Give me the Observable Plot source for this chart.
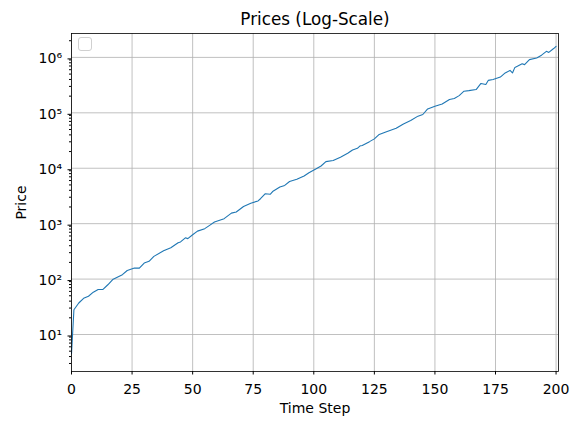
<!DOCTYPE html>
<html>
<head>
<meta charset="utf-8">
<script src="https://cdn.jsdelivr.net/npm/d3@7"></script>
<script src="https://cdn.jsdelivr.net/npm/@observablehq/plot@0.6"></script>
<style>
  html, body { margin: 0; padding: 0; background: #fff; }
  #wrap { position: relative; width: 579px; height: 422px; }
  #legend { position: absolute; left: 78px; top: 37px; width: 12px; height: 12px;
            border: 1px solid #d0d0d0; border-radius: 3px; background: rgba(255,255,255,0.8); }
  svg { font-family: "DejaVu Sans", sans-serif; }
</style>
</head>
<body>
<div id="wrap"><div id="legend"></div></div>
<script>
const title = "Prices (Log-Scale)";
const xLabel = "Time Step";
const yLabel = "Price";
const xTicks = [0, 25, 50, 75, 100, 125, 150, 175, 200];
const yTicks = [10, 100, 1000, 10000, 100000, 1000000];
const yMinorTicks = [3, 4, 5, 6, 7, 8, 9,
  20, 30, 40, 50, 60, 70, 80, 90,
  200, 300, 400, 500, 600, 700, 800, 900,
  2000, 3000, 4000, 5000, 6000, 7000, 8000, 9000,
  20000, 30000, 40000, 50000, 60000, 70000, 80000, 90000,
  200000, 300000, 400000, 500000, 600000, 700000, 800000, 900000,
  2000000];

const steps = [0, 1, 3, 5, 7, 9, 11, 13, 15, 17, 21, 23, 26, 28, 30, 32, 34, 38, 39, 41,
  44, 45, 47, 48, 50, 52, 55, 57, 59, 63, 66, 68, 71, 74, 77, 78, 80, 82, 83, 86,
  88, 90, 93, 96, 98, 101, 103, 105, 108, 111, 114, 116, 118, 119, 120, 123, 125, 127, 130, 134,
  137, 140, 143, 145, 147, 150, 153, 156, 158, 160, 162, 164, 167, 169, 171, 172, 174, 177, 179, 181,
  182, 183, 184, 186, 187, 189, 192, 194, 196, 197, 199, 200];
const prices = [4.5, 28, 37, 45, 49, 58, 65, 65, 79, 98, 120, 143, 158, 158, 195, 209, 257, 324, 339, 367,
  452, 468, 556, 537, 631, 733, 813, 933, 1072, 1230, 1549, 1622, 2042, 2344, 2570, 2818, 3467, 3388, 3802, 4571,
  4898, 5754, 6310, 7244, 8318, 9772, 10965, 13183, 13804, 15849, 18621, 21380, 22909, 25119, 25704, 30200, 33884, 40738, 45709, 52481,
  63096, 72444, 87096, 93325, 117490, 131826, 144544, 173780, 181970, 204174, 245471, 251189, 263027, 338844, 323594, 384592, 398107, 441570, 524807, 582103,
  524807, 660693, 691831, 767361, 741310, 912011, 977237, 1096478, 1288250, 1230269, 1445440, 1584893];

const data = steps.map((s, i) => ({step: s, price: prices[i]}));
const sup = {"0":"\u2070","1":"\u00b9","2":"\u00b2","3":"\u00b3","4":"\u2074","5":"\u2075","6":"\u2076","7":"\u2077","8":"\u2078","9":"\u2079"};
const fmt = d => "10" + String(Math.round(Math.log10(d))).split("").map(c => sup[c]).join("");

const chart = Plot.plot({
  width: 579,
  height: 422,
  marginLeft: 71,
  marginRight: 21,
  marginTop: 33,
  marginBottom: 51,
  style: {fontFamily: "DejaVu Sans, sans-serif", fontSize: "14px", color: "#000", background: "#fff"},
  x: {domain: [0, 201]},
  y: {type: "log", domain: [2.15, 2.7e6]},
  marks: [
    Plot.gridX(xTicks, {stroke: "#b0b0b0", strokeOpacity: 1, strokeWidth: 0.8}),
    Plot.gridY(yTicks, {stroke: "#b0b0b0", strokeOpacity: 1, strokeWidth: 0.8}),
    Plot.line(data, {x: "step", y: "price", stroke: "#1f77b4", strokeWidth: 1.1}),
    Plot.axisX({ticks: xTicks, tickSize: 3.5, tickPadding: 9, tickFormat: d => String(d),
      label: xLabel, labelAnchor: "center", labelOffset: 41, labelArrow: "none", fontSize: 14}),
    Plot.axisY({ticks: yTicks, tickSize: 3.5, tickPadding: 6, tickFormat: fmt, dy: 1.5,
      label: yLabel, labelAnchor: "center", labelOffset: 55, labelArrow: "none", fontSize: 14}),
    Plot.axisY({ticks: yMinorTicks, tickSize: 2, text: null, label: null}),
    Plot.frame({stroke: "#000", strokeWidth: 0.8}),
    Plot.text([title], {frameAnchor: "top", dy: -20, fontSize: 16.8, fill: "#000"})
  ]
});
document.getElementById("wrap").prepend(chart);
</script>
</body>
</html>
